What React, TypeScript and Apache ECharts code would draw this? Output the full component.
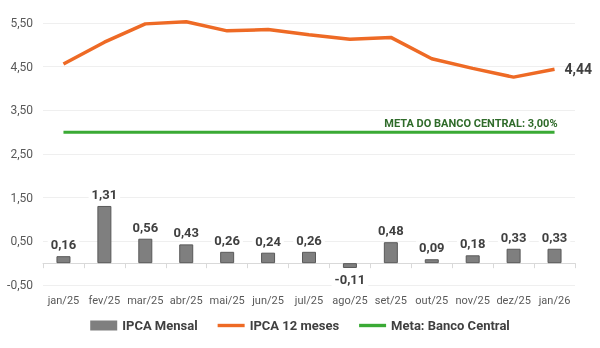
import React, { useEffect, useRef } from "react";
import * as echarts from "echarts";

const months = ["jan/25", "fev/25", "mar/25", "abr/25", "mai/25", "jun/25", "jul/25", "ago/25", "set/25", "out/25", "nov/25", "dez/25", "jan/26"];
const ipcaMensal = [0.16, 1.31, 0.56, 0.43, 0.26, 0.24, 0.26, -0.11, 0.48, 0.09, 0.18, 0.33, 0.33];
const ipca12 = [4.56, 5.06, 5.48, 5.53, 5.32, 5.35, 5.23, 5.13, 5.17, 4.68, 4.46, 4.26, 4.44];
const meta = [3.0, 3.0, 3.0, 3.0, 3.0, 3.0, 3.0, 3.0, 3.0, 3.0, 3.0, 3.0, 3.0];
const metaLabel = "META DO BANCO CENTRAL: 3,00%";

const fmt = (v: number) => v.toFixed(2).replace(".", ",");
const FONT = "Roboto, 'Noto Sans', sans-serif";

export default function App() {
  const ref = useRef<HTMLDivElement>(null);
  useEffect(() => {
    if (!ref.current) return;
    const chart = echarts.init(ref.current, undefined, { renderer: "svg" });
    const lineIcon = "path://M0,0h28v3.5h-28z";
    chart.setOption({
      animation: false,
      textStyle: { fontFamily: FONT },
      grid: { left: 43, right: 25, top: 23, bottom: 63 },
      legend: {
        bottom: 11,
        left: "center",
        itemWidth: 27,
        itemHeight: 10,
        itemGap: 20,
        textStyle: { fontFamily: FONT, fontSize: 13, fontWeight: "bold", color: "#404040" },
        data: [
          { name: "IPCA Mensal", icon: "rect", itemStyle: { borderWidth: 0, color: "#7f7f7f" } },
          { name: "IPCA 12 meses", icon: lineIcon },
          { name: "Meta: Banco Central", icon: lineIcon },
        ],
      },
      xAxis: {
        type: "category",
        data: months,
        axisLine: { onZero: true, lineStyle: { color: "#d9d9d9", width: 1 } },
        axisTick: { show: true, length: 5, lineStyle: { color: "#d9d9d9" } },
        axisLabel: { margin: 10, interval: 0, color: "#595959", fontSize: 11, fontFamily: FONT },
      },
      yAxis: {
        type: "value",
        min: -0.5,
        max: 5.5,
        interval: 1,
        axisLine: { show: false },
        axisTick: { show: false },
        splitLine: { lineStyle: { color: "#efefef" } },
        axisLabel: { color: "#595959", fontSize: 12, fontFamily: FONT, margin: 10, formatter: (v: number) => fmt(v) },
      },
      series: [
        {
          name: "IPCA Mensal",
          type: "bar",
          barWidth: 14,
          itemStyle: { color: "#7f7f7f", borderColor: "#595959", borderWidth: 1 },
          data: ipcaMensal.map((v) => ({
            value: v,
            label: { position: v < 0 ? "bottom" : "top" },
          })),
          label: {
            show: true,
            distance: 5,
            formatter: (p: any) => fmt(p.value),
            color: "#404040",
            fontSize: 13,
            fontWeight: "bold",
            fontFamily: FONT,
            backgroundColor: "#ffffff",
            padding: [0, 3],
          },
          z: 3,
        },
        {
          name: "IPCA 12 meses",
          type: "line",
          data: ipca12,
          symbol: "none",
          clip: false,
          lineStyle: { color: "#EE6A25", width: 3.5 },
          itemStyle: { color: "#EE6A25" },
          endLabel: {
            show: true,
            distance: 10,
            formatter: (p: any) => fmt(p.value),
            color: "#404040",
            fontSize: 14,
            fontWeight: "bold",
            fontFamily: FONT,
          },
        },
        {
          name: "Meta: Banco Central",
          type: "line",
          symbol: "circle",
          symbolSize: 0,
          lineStyle: { color: "#3AAA35", width: 3 },
          itemStyle: { color: "#3AAA35" },
          data: meta.map((v, i) => ({
            value: v,
            label:
              i === meta.length - 1
                ? {
                    show: true,
                    position: "top",
                    align: "right",
                    offset: [3, 2],
                    formatter: metaLabel,
                    color: "#2F6B2A",
                    fontSize: 11,
                    fontWeight: "bold",
                    fontFamily: FONT,
                  }
                : { show: false },
          })),
        },
      ],
    });
    return () => chart.dispose();
  }, []);
  return <div ref={ref} style={{ position: "fixed", left: 0, top: 0, width: 600, height: 348 }} />;
}
